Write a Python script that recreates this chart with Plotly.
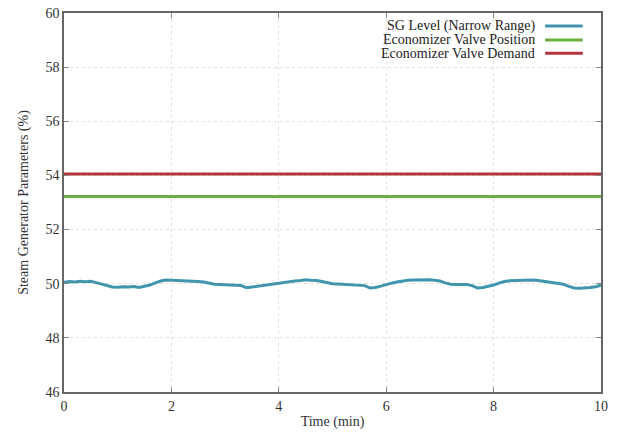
import plotly.graph_objects as go

time_min = [round(i * 0.1, 1) for i in range(101)]
sg_level = [
    50.05, 50.08, 50.06, 50.09, 50.07, 50.09, 50.04, 49.98, 49.92, 49.88,
    49.87, 49.89, 49.88, 49.90, 49.86, 49.91, 49.95, 50.03, 50.10, 50.14,
    50.13, 50.14, 50.12, 50.11, 50.10, 50.08, 50.06, 50.01, 49.98, 49.97,
    49.96, 49.95, 49.96, 49.93, 49.85, 49.88, 49.90, 49.92, 49.95, 49.98,
    50.02, 50.05, 50.08, 50.10, 50.12, 50.15, 50.13, 50.12, 50.08, 50.03,
    50.00, 49.99, 49.98, 49.97, 49.96, 49.95, 49.93, 49.84, 49.86, 49.91,
    49.97, 50.02, 50.06, 50.10, 50.13, 50.14, 50.15, 50.14, 50.15, 50.13,
    50.10, 50.03, 49.98, 49.97, 49.96, 49.97, 49.93, 49.84, 49.86, 49.90,
    49.95, 50.02, 50.08, 50.11, 50.12, 50.12, 50.13, 50.14, 50.13, 50.10,
    50.07, 50.04, 50.01, 49.98, 49.90, 49.84, 49.83, 49.84, 49.86, 49.89,
    49.95,
]
valve_position = [53.22] * len(time_min)
valve_demand = [54.05] * len(time_min)

series_names = ["SG Level (Narrow Range)", "Economizer Valve Position", "Economizer Valve Demand"]
series_colors = ["#4196ae", "#6cb043", "#b3343c"]
series_values = [sg_level, valve_position, valve_demand]

x_ticks = [0, 2, 4, 6, 8, 10]
y_ticks = [46, 48, 50, 52, 54, 56, 58, 60]

font_family = "Times New Roman"

fig = go.Figure()
for name, color, vals in zip(series_names, series_colors, series_values):
    fig.add_trace(go.Scatter(x=time_min, y=vals, mode="lines", name=name,
                             line=dict(color=color, width=3), showlegend=False))

# Legend drawn manually (text right-aligned, sample line on the right)
legend_rows = [0.966, 0.929, 0.894]
for name, color, yy in zip(series_names, series_colors, legend_rows):
    fig.add_annotation(xref="paper", yref="paper", x=0.881, y=yy, text=name,
                       showarrow=False, xanchor="right", yanchor="middle",
                       font=dict(family=font_family, size=14, color="#222"))
    fig.add_shape(type="line", xref="paper", yref="paper", x0=0.896, x1=0.966,
                  y0=yy, y1=yy, line=dict(color=color, width=3))

axis_common = dict(showline=True, linecolor="#666", linewidth=1.5, mirror="ticks",
                   ticks="inside", ticklen=5, tickcolor="#888",
                   showgrid=True, gridcolor="#e2e2e2", griddash="dot", gridwidth=1,
                   zeroline=False,
                   tickfont=dict(family=font_family, size=14, color="#333"))

fig.update_xaxes(range=[0, 10], tickvals=x_ticks,
                 title=dict(text="Time (min)", font=dict(family=font_family, size=14, color="#333"), standoff=4),
                 **axis_common)
fig.update_yaxes(range=[46, 60], tickvals=y_ticks,
                 title=dict(text="Steam Generator Parameters (%)", font=dict(family=font_family, size=14, color="#333"), standoff=14),
                 **axis_common)

fig.update_layout(width=617, height=433, paper_bgcolor="white", plot_bgcolor="white",
                  font=dict(family=font_family),
                  margin=dict(l=64, r=16, t=13, b=41, autoexpand=False))

fig.write_html("out.html")
